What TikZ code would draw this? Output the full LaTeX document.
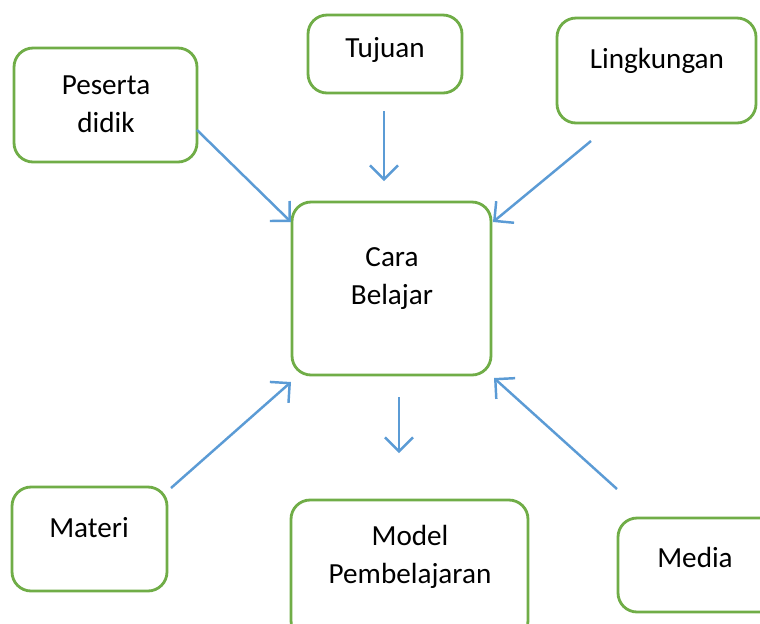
\documentclass[tikz,border=0pt]{standalone}
\usepackage{fontspec}
\setmainfont{Carlito}
\usetikzlibrary{arrows.meta}
\definecolor{boxgreen}{RGB}{112,173,71}
\definecolor{arrowblue}{RGB}{91,155,213}

\begin{document}
\begin{tikzpicture}[x=0.02cm,y=-0.02cm,
  box/.style={draw=boxgreen,line width=1.6pt,rounded corners=0.38cm,fill=white,inner sep=0pt},
  txt/.style={font=\fontsize{16.6}{21.6}\selectfont,align=center,inner sep=0pt},
  arr/.style={draw=arrowblue,line width=1.4pt,-{Straight Barb[length=0.28cm,width=0.56cm,line width=1.4pt]}}]
\clip (0,0) rectangle (760,623);
\fill[white] (0,0) rectangle (760,623);

\node[box,minimum width=3.66cm,minimum height=2.28cm] (peserta) at (105.5,105) {};
\node[box,minimum width=3.08cm,minimum height=1.56cm] (tujuan) at (385,54) {};
\node[box,minimum width=3.98cm,minimum height=2.10cm] (lingkungan) at (656.5,70.5) {};
\node[box,minimum width=3.98cm,minimum height=3.46cm] (cara) at (391.5,288.5) {};
\node[box,minimum width=3.10cm,minimum height=2.08cm] (materi) at (89.5,539) {};
\node[box,minimum width=4.74cm,minimum height=2.80cm] (model) at (409.5,570) {};
\node[box,minimum width=3.64cm,minimum height=1.88cm] (media) at (709,565) {};

\node[txt] (peserta-t) at (106,104) {Peserta\\didik};
\node[txt] (tujuan-t) at (385,50) {Tujuan};
\node[txt] (lingkungan-t) at (657,61) {Lingkungan};
\node[txt] (cara-t) at (392,279) {Cara\\Belajar};
\node[txt] (materi-t) at (89,528) {Materi};
\node[txt] (model-t) at (410,557) {Model\\Pembelajaran};
\node[txt] (media-t) at (695,557) {Media};

\coordinate (peserta-out) at (197,130);
\coordinate (peserta-in) at (291,222);
\coordinate (tujuan-out) at (384,111);
\coordinate (tujuan-in) at (384,181);
\coordinate (lingkungan-out) at (591,141);
\coordinate (lingkungan-in) at (493,222);
\coordinate (materi-out) at (171,488);
\coordinate (materi-in) at (291,382);
\coordinate (cara-out) at (399,397);
\coordinate (model-in) at (399,453);
\coordinate (media-out) at (617,489);
\coordinate (media-in) at (494,378);

\draw[arr] (peserta-out) -- (peserta-in);
\draw[arr] (tujuan-out) -- (tujuan-in);
\draw[arr] (lingkungan-out) -- (lingkungan-in);
\draw[arr] (materi-out) -- (materi-in);
\draw[arr] (cara-out) -- (model-in);
\draw[arr] (media-out) -- (media-in);
\end{tikzpicture}
\end{document}
